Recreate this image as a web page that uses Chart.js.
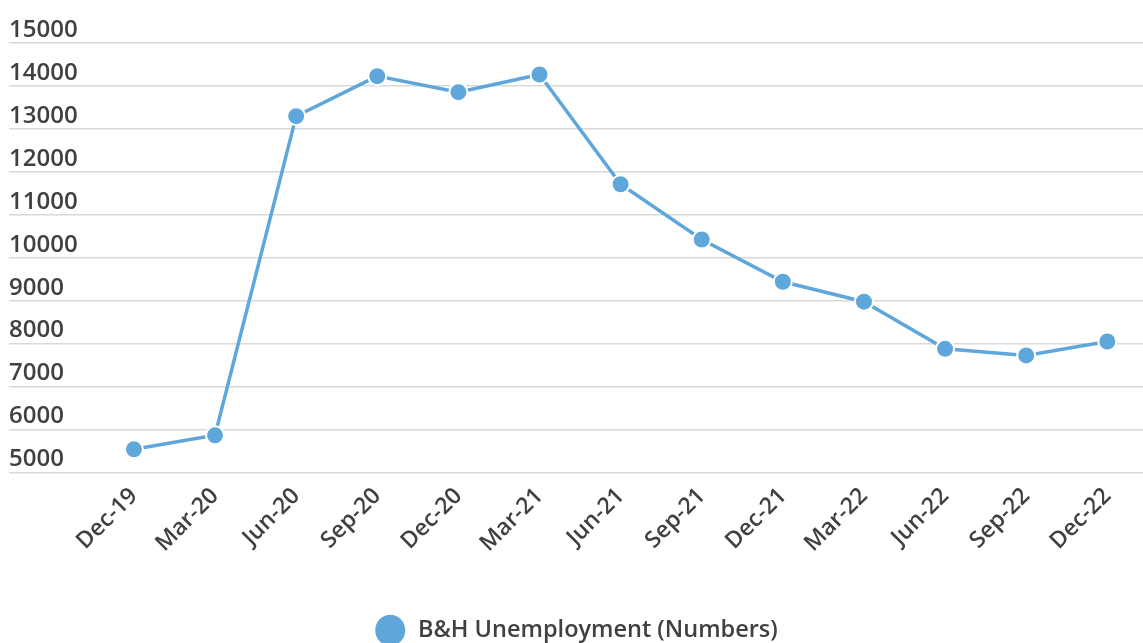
<!DOCTYPE html>
<html>
<head>
<meta charset="utf-8">
<script src="https://cdn.jsdelivr.net/npm/chart.js@4/dist/chart.umd.min.js"></script>
<style>
  html, body { margin: 0; padding: 0; background: #fff; }
  #frame { width: 1143px; height: 643px; overflow: hidden; }
  #wrap { width: 1143px; height: 652px; position: relative; }
</style>
</head>
<body>
<div id="frame"><div id="wrap"><canvas id="grafico"></canvas></div></div>
<script>
// quarters shown on the x axis
const categories = ['Dec-19', 'Mar-20', 'Jun-20', 'Sep-20', 'Dec-20', 'Mar-21', 'Jun-21',
                    'Sep-21', 'Dec-21', 'Mar-22', 'Jun-22', 'Sep-22', 'Dec-22'];
// registered unemployed persons
const unemployment = [5540, 5866, 13297, 14228, 13856, 14267, 11712,
                      10425, 9441, 8977, 7880, 7725, 8050];
const yTicks = [5000, 6000, 7000, 8000, 9000, 10000, 11000, 12000, 13000, 14000, 15000];
const seriesName = 'B&H Unemployment (Numbers)';

const blu = '#5fa7da';
const testo = '#404040';
const font = 'Open Sans';

const ctx = document.getElementById('grafico').getContext('2d');

new Chart(ctx, {
    type: 'line',
    data: {
        datasets: [{
            label: seriesName,
            data: unemployment.map((v, i) => ({ x: i, y: v })),
            borderColor: blu,
            backgroundColor: blu,
            borderWidth: 3.5,
            tension: 0,
            pointRadius: 9,
            pointBorderWidth: 2,
            pointBorderColor: '#ffffff',
            pointBackgroundColor: blu,
            pointStyle: 'circle'
        }]
    },
    options: {
        responsive: true,
        maintainAspectRatio: false,
        animation: false,
        layout: {
            autoPadding: false,
            padding: { left: 9, right: 0, top: 43, bottom: 0 }
        },
        scales: {
            x: {
                type: 'linear',
                min: -1.54,
                max: 12.44,
                afterBuildTicks: scale => {
                    scale.ticks = categories.map((c, i) => ({ value: i }));
                },
                afterFit: scale => {
                    scale.height = 136;
                    scale.paddingLeft = 0;
                    scale.paddingRight = 0;
                },
                ticks: {
                    autoSkip: false,
                    minRotation: 45,
                    maxRotation: 45,
                    padding: 10,
                    color: testo,
                    font: { family: font, size: 23, weight: '600' },
                    callback: value => categories[value]
                },
                grid: { display: false, drawTicks: false },
                border: { display: false }
            },
            y: {
                min: yTicks[0],
                max: yTicks[yTicks.length - 1],
                afterBuildTicks: scale => {
                    scale.ticks = yTicks.map(v => ({ value: v }));
                },
                ticks: {
                    mirror: true,
                    padding: 0,
                    labelOffset: -13,
                    color: testo,
                    font: { family: font, size: 24, weight: '600' },
                    callback: value => String(value)
                },
                grid: { color: '#d9d9d9', lineWidth: 1.5, drawTicks: false },
                border: { display: false }
            }
        },
        plugins: {
            legend: {
                position: 'bottom',
                labels: {
                    usePointStyle: true,
                    pointStyleWidth: 32,
                    padding: 10,
                    color: testo,
                    font: { family: font, size: 23.5, weight: '600' }
                }
            },
            tooltip: { enabled: false }
        }
    }
});
</script>
</body>
</html>
